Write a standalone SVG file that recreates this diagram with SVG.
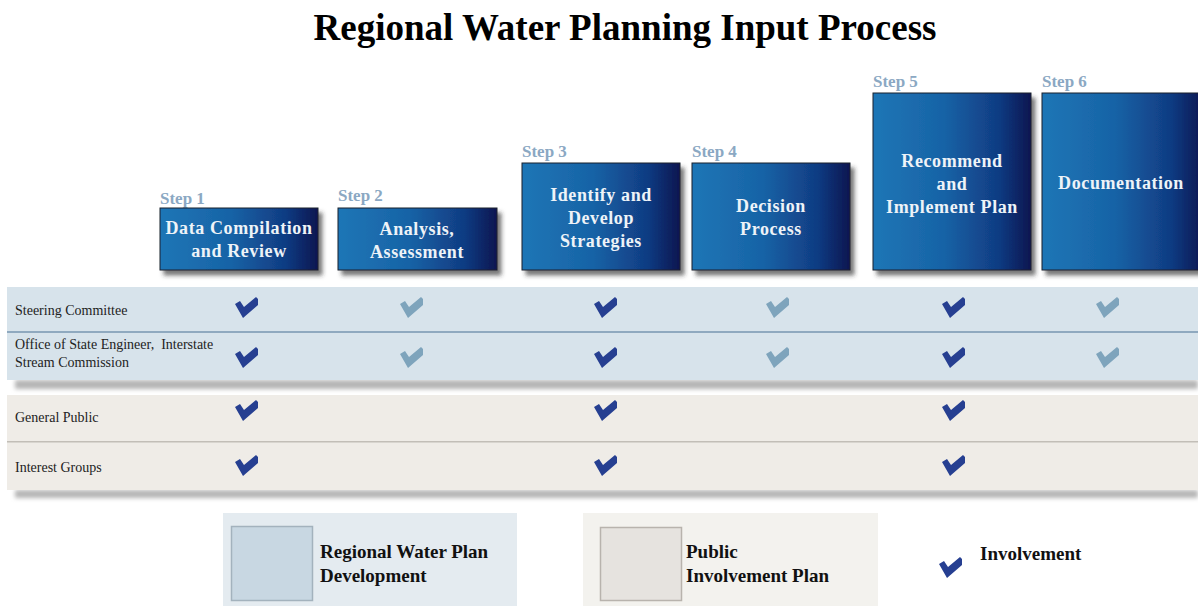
<svg xmlns="http://www.w3.org/2000/svg" xmlns:xlink="http://www.w3.org/1999/xlink" width="1198" height="606" viewBox="0 0 1198 606">
<defs>
<style>
.title{font-family:"Liberation Serif","Times New Roman",serif;font-weight:bold;font-size:37px;fill:#000}
.step{font-family:"Liberation Serif","Times New Roman",serif;font-weight:bold;font-size:17px;fill:#8ba8c3}
.btxt{font-family:"Liberation Serif","Times New Roman",serif;font-weight:bold;font-size:18px;fill:#eef3f8;text-anchor:middle;letter-spacing:0.6px}
.row{font-family:"Liberation Serif","Times New Roman",serif;font-size:14px;fill:#222;white-space:pre}
.leg{font-family:"Liberation Serif","Times New Roman",serif;font-weight:bold;font-size:19px;fill:#111}
.box{fill:url(#bg);stroke:#1a1f2e;stroke-width:1;filter:url(#sh)}
.dk{fill:#263f91}
.lt{fill:#7ea4bc}
</style>
<linearGradient id="bg" x1="0" y1="0" x2="1" y2="0">
<stop offset="0" stop-color="#1f76b6"/>
<stop offset="0.45" stop-color="#1763a6"/>
<stop offset="0.8" stop-color="#103b82"/>
<stop offset="1" stop-color="#0a1650"/>
</linearGradient>
<filter id="sh" x="-10%" y="-10%" width="125%" height="130%">
<feDropShadow dx="4" dy="5" stdDeviation="2" flood-color="#333" flood-opacity="0.65"/>
</filter>
<filter id="blur" x="-5%" y="-100%" width="110%" height="300%">
<feGaussianBlur stdDeviation="2"/>
</filter>
<path id="chk" d="M-11,-4 L-6,-7 L-2,-1 L10,-11 L12,-9 L12,-3 L-3,10 Z"/>
</defs>

<rect width="1198" height="606" fill="#fff"/>
<text class="title" x="625" y="40" text-anchor="middle">Regional Water Planning Input Process</text>

<g id="rows">
<rect x="15" y="380" width="1183" height="9" fill="#b5b5b5" filter="url(#blur)"/>
<rect x="15" y="490" width="1183" height="8" fill="#b5b5b5" filter="url(#blur)"/>
<rect x="7" y="287" width="1191" height="93" fill="#d7e3eb"/>
<rect x="7" y="331" width="1191" height="2" fill="#8fa9bf"/>
<rect x="7" y="395" width="1191" height="95" fill="#efece7"/>
<rect x="7" y="441" width="1191" height="1.5" fill="#c2beb7"/>
</g>

<g id="row-labels">
<text class="row" x="15" y="315">Steering Committee</text>
<text class="row" x="15" y="349" xml:space="preserve">Office of State Engineer,  Interstate</text>
<text class="row" x="15" y="367">Stream Commission</text>
<text class="row" x="15" y="422">General Public</text>
<text class="row" x="15" y="472">Interest Groups</text>
</g>

<g id="step1">
<text class="step" x="160" y="204">Step 1</text>
<rect class="box" x="160" y="208" width="158" height="62"/>
<text class="btxt" x="239" y="234">Data Compilation</text>
<text class="btxt" x="239" y="257">and Review</text>
</g>
<g id="step2">
<text class="step" x="338" y="201">Step 2</text>
<rect class="box" x="338" y="208" width="159" height="62"/>
<text class="btxt" x="417" y="235">Analysis,</text>
<text class="btxt" x="417" y="258">Assessment</text>
</g>
<g id="step3">
<text class="step" x="522" y="157">Step 3</text>
<rect class="box" x="522" y="163" width="158" height="107"/>
<text class="btxt" x="601" y="201">Identify and</text>
<text class="btxt" x="601" y="224">Develop</text>
<text class="btxt" x="601" y="247">Strategies</text>
</g>
<g id="step4">
<text class="step" x="692" y="157">Step 4</text>
<rect class="box" x="692" y="163" width="158" height="107"/>
<text class="btxt" x="771" y="212">Decision</text>
<text class="btxt" x="771" y="235">Process</text>
</g>
<g id="step5">
<text class="step" x="873" y="87">Step 5</text>
<rect class="box" x="873" y="93" width="158" height="177"/>
<text class="btxt" x="952" y="167">Recommend</text>
<text class="btxt" x="952" y="190">and</text>
<text class="btxt" x="952" y="213">Implement Plan</text>
</g>
<g id="step6">
<text class="step" x="1042" y="87">Step 6</text>
<rect class="box" x="1042" y="93" width="162" height="177"/>
<text class="btxt" x="1121" y="189">Documentation</text>
</g>

<g id="checks">
<use href="#chk" xlink:href="#chk" class="dk" x="246" y="308"/>
<use href="#chk" xlink:href="#chk" class="lt" x="411" y="308"/>
<use href="#chk" xlink:href="#chk" class="dk" x="605" y="308"/>
<use href="#chk" xlink:href="#chk" class="lt" x="777" y="308"/>
<use href="#chk" xlink:href="#chk" class="dk" x="953" y="308"/>
<use href="#chk" xlink:href="#chk" class="lt" x="1107" y="308"/>

<use href="#chk" xlink:href="#chk" class="dk" x="246" y="358"/>
<use href="#chk" xlink:href="#chk" class="lt" x="411" y="358"/>
<use href="#chk" xlink:href="#chk" class="dk" x="605" y="358"/>
<use href="#chk" xlink:href="#chk" class="lt" x="777" y="358"/>
<use href="#chk" xlink:href="#chk" class="dk" x="953" y="358"/>
<use href="#chk" xlink:href="#chk" class="lt" x="1107" y="358"/>

<use href="#chk" xlink:href="#chk" class="dk" x="246" y="411"/>
<use href="#chk" xlink:href="#chk" class="dk" x="605" y="411"/>
<use href="#chk" xlink:href="#chk" class="dk" x="953" y="411"/>

<use href="#chk" xlink:href="#chk" class="dk" x="246" y="466"/>
<use href="#chk" xlink:href="#chk" class="dk" x="605" y="466"/>
<use href="#chk" xlink:href="#chk" class="dk" x="953" y="466"/>
</g>

<g id="legend-rwp">
<rect x="223" y="513" width="294" height="93" fill="#e4ebf0"/>
<rect x="231.5" y="526.5" width="81" height="74" fill="#c8d7e2" stroke="#a3b2bd" stroke-width="1.5"/>
<text class="leg" x="320" y="558">Regional Water Plan</text>
<text class="leg" x="320" y="582">Development</text>
</g>
<g id="legend-pip">
<rect x="583" y="513" width="295" height="93" fill="#f3f2ee"/>
<rect x="600.5" y="527.5" width="81" height="73" fill="#e6e3df" stroke="#b8b3ad" stroke-width="1.5"/>
<text class="leg" x="686" y="558">Public</text>
<text class="leg" x="686" y="582">Involvement Plan</text>
</g>
<g id="legend-inv">
<use href="#chk" xlink:href="#chk" class="dk" x="950" y="568"/>
<text class="leg" x="980" y="560">Involvement</text>
</g>
</svg>
